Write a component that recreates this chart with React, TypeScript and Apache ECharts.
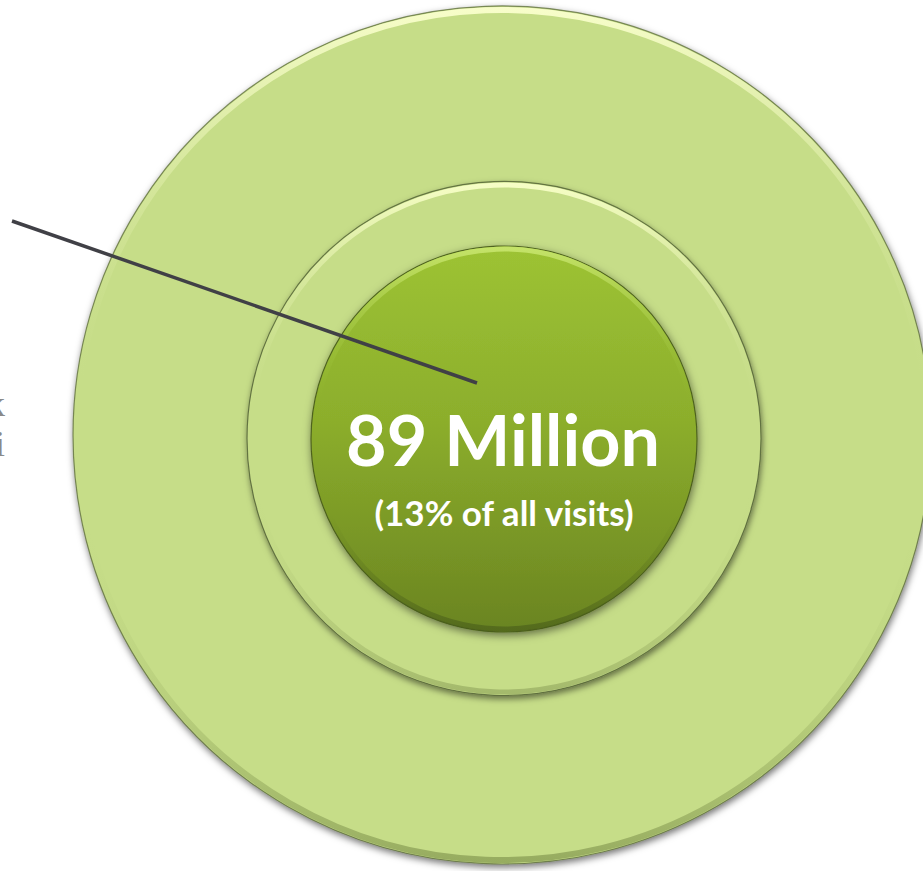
import React, { useEffect, useRef } from "react";
import * as echarts from "echarts";

// Content of the infographic
const headlineValues = ["89 Million"];
const shareLabels = ["(13% of all visits)"];
const cutOffLabelLines = ["k", "i"];
const ringNames = ["outer", "middle", "inner"];

export default function App() {
  const ref = useRef<HTMLDivElement>(null);

  useEffect(() => {
    document.body.style.margin = "0";
    if (!ref.current) return;
    const chart = echarts.init(ref.current, undefined, { renderer: "svg" });

    const G = echarts.graphic;
    const lightFill = "#c6dd88";

    const rimStroke = (light: string, dark: string) =>
      new G.LinearGradient(0, 0, 0, 1, [
        { offset: 0, color: light },
        { offset: 0.45, color: "rgba(198,221,136,0.0)" },
        { offset: 0.6, color: "rgba(198,221,136,0.0)" },
        { offset: 1, color: dark },
      ]);

    const rings: any[] = [
      // outer
      {
        type: "circle",
        name: ringNames[0],
        z: 1,
        shape: { cx: 502, cy: 435, r: 429 },
        style: {
          fill: lightFill,
          stroke: "rgba(90,105,55,0.75)",
          lineWidth: 1.2,
          shadowBlur: 7,
          shadowColor: "rgba(0,0,0,0.55)",
          shadowOffsetX: 1,
          shadowOffsetY: 3,
        },
      },
      {
        type: "circle",
        z: 2,
        shape: { cx: 502, cy: 435, r: 425 },
        style: {
          fill: null,
          stroke: rimStroke("rgba(250,255,205,0.95)", "rgba(120,140,70,0.6)"),
          lineWidth: 6,
        },
      },
      // middle
      {
        type: "circle",
        name: ringNames[1],
        z: 3,
        shape: { cx: 504, cy: 438.5, r: 257 },
        style: {
          fill: lightFill,
          stroke: "rgba(85,100,55,0.85)",
          lineWidth: 1.2,
          shadowBlur: 6,
          shadowColor: "rgba(0,0,0,0.5)",
          shadowOffsetX: 1,
          shadowOffsetY: 3,
        },
      },
      {
        type: "circle",
        z: 4,
        shape: { cx: 504, cy: 438.5, r: 253.5 },
        style: {
          fill: null,
          stroke: rimStroke("rgba(248,255,200,0.95)", "rgba(130,150,80,0.5)"),
          lineWidth: 5,
        },
      },
      // inner
      {
        type: "circle",
        name: ringNames[2],
        z: 5,
        shape: { cx: 504, cy: 439, r: 193 },
        style: {
          fill: new G.LinearGradient(0, 0, 0, 1, [
            { offset: 0, color: "#9dc334" },
            { offset: 0.45, color: "#8cae2c" },
            { offset: 1, color: "#6a8421" },
          ]),
          stroke: "rgba(70,90,25,0.9)",
          lineWidth: 1.2,
          shadowBlur: 8,
          shadowColor: "rgba(0,0,0,0.5)",
          shadowOffsetX: 1,
          shadowOffsetY: 3,
        },
      },
      {
        type: "circle",
        z: 6,
        shape: { cx: 504, cy: 439, r: 190 },
        style: {
          fill: null,
          stroke: new G.LinearGradient(0, 0, 0, 1, [
            { offset: 0, color: "rgba(200,230,110,0.9)" },
            { offset: 0.4, color: "rgba(150,190,50,0)" },
            { offset: 0.7, color: "rgba(90,115,30,0)" },
            { offset: 1, color: "rgba(70,90,25,0.6)" },
          ]),
          lineWidth: 5,
        },
      },
    ];

    const texts: any[] = [
      {
        type: "text",
        z: 10,
        x: 503,
        y: 439,
        style: {
          text: headlineValues[0],
          fill: "#ffffff",
          font: "bold 70px Lato, 'Open Sans', sans-serif",
          align: "center",
          verticalAlign: "middle",
        },
      },
      {
        type: "text",
        z: 10,
        x: 504,
        y: 512,
        style: {
          text: shareLabels[0],
          fill: "#ffffff",
          font: "bold 35px Lato, 'Open Sans', sans-serif",
          align: "center",
          verticalAlign: "middle",
        },
      },
      ...cutOffLabelLines.map((t, i) => ({
        type: "text",
        z: 10,
        x: 5,
        y: 404 + i * 40,
        style: {
          text: t,
          fill: "#8a8a8a",
          font: "36px 'Liberation Serif', 'DejaVu Serif', serif",
          align: "right",
          verticalAlign: "middle",
        },
      })),
    ];

    const pointer = {
      type: "line",
      z: 11,
      shape: { x1: 12, y1: 221, x2: 477, y2: 383 },
      style: { stroke: "#404046", lineWidth: 3.5, lineCap: "butt" },
    };

    chart.setOption({
      animation: false,
      backgroundColor: "#ffffff",
      graphic: { elements: [...rings, pointer, ...texts] },
    });

    return () => chart.dispose();
  }, []);

  return (
    <div
      ref={ref}
      style={{ position: "absolute", left: 0, top: 0, width: 923, height: 871 }}
    />
  );
}
